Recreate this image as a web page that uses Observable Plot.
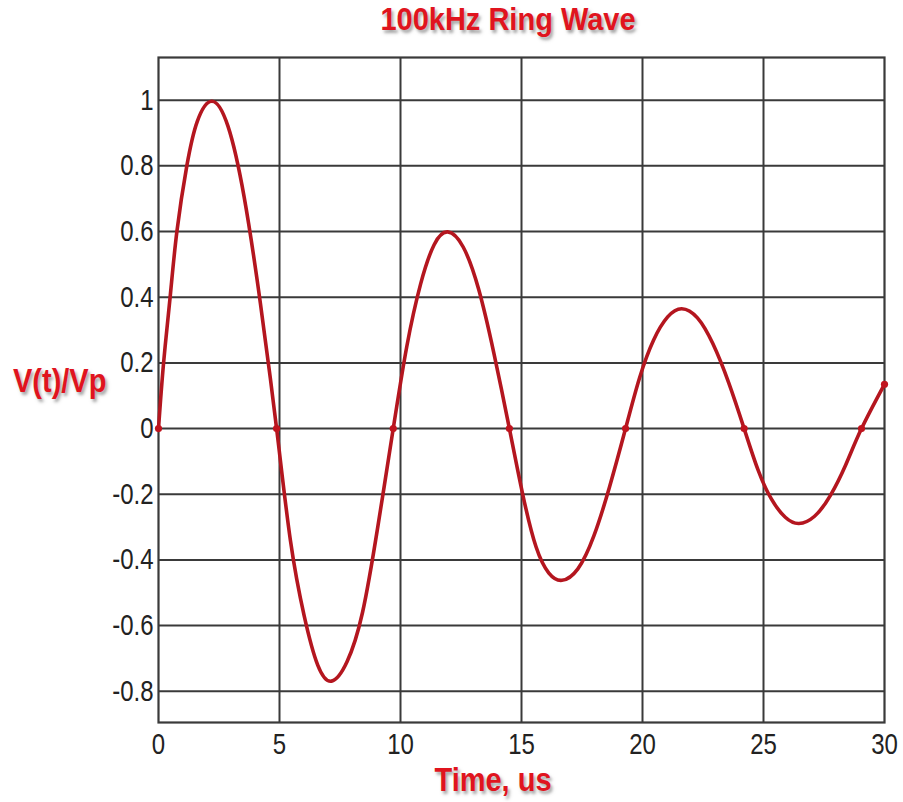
<!DOCTYPE html>
<html>
<head>
<meta charset="utf-8">
<script src="https://cdn.jsdelivr.net/npm/d3@7"></script>
<script src="https://cdn.jsdelivr.net/npm/@observablehq/plot@0.6"></script>
<style>
  body { margin: 0; background: #fff; }
  #wrap { position: relative; width: 903px; height: 802px; font-family: "Liberation Sans", Arial, sans-serif; overflow: hidden; }
  .lbl { position: absolute; color: #e0141e; font-weight: bold; font-size: 29px; line-height: 29px;
         text-shadow: 2px 3px 3px rgba(90,90,90,0.55); white-space: nowrap; transform-origin: 50% 85%; }
</style>
</head>
<body>
<div id="wrap">
  <div class="lbl" id="title" style="left:0;width:1016px;text-align:center;top:6px;transform:scaleY(1.1);">100kHz Ring Wave</div>
  <div class="lbl" id="ylab" style="left:13px;top:368px;transform:scaleY(1.12);">V(t)/Vp</div>
  <div class="lbl" id="xlab" style="left:0;width:986px;text-align:center;top:767px;transform:scaleY(1.12);">Time, us</div>
</div>
<script>
// Curve (time in µs, normalized voltage V(t)/Vp)
const time  = [0, 0.21, 0.48, 0.76, 1.17, 1.6, 2.2, 2.87, 3.54, 4.21, 4.88, 5.45, 6.02, 6.58, 7.15, 7.79, 8.43, 9.06, 9.7, 10.26, 10.83, 11.39, 11.95, 12.59, 13.23, 13.86, 14.5, 15.05, 15.6, 16.13, 16.67, 17.33, 17.99, 18.64, 19.3, 19.88, 20.46, 21.04, 21.62, 22.27, 22.91, 23.56, 24.2, 24.77, 25.33, 25.9, 26.46, 27.11, 27.76, 28.4, 29.05, 30];
const volts = [0, 0.2, 0.4, 0.6, 0.8, 0.935, 0.997, 0.921, 0.705, 0.382, 0, -0.34, -0.57, -0.72, -0.769, -0.71, -0.56, -0.3, 0, 0.25, 0.44, 0.56, 0.599, 0.553, 0.424, 0.229, 0, -0.2, -0.36, -0.44, -0.462, -0.427, -0.327, -0.177, 0, 0.155, 0.27, 0.34, 0.365, 0.337, 0.258, 0.14, 0, -0.125, -0.215, -0.27, -0.289, -0.267, -0.204, -0.11, 0, 0.135];
// Marked points (zero crossings and end point)
const markT = [0, 4.88, 9.7, 14.5, 19.3, 24.2, 29.05, 30];
const markV = [0, 0, 0, 0, 0, 0, 0, 0.135];
const yTicks = [-0.8, -0.6, -0.4, -0.2, 0, 0.2, 0.4, 0.6, 0.8, 1];
const xTicks = [0, 5, 10, 15, 20, 25, 30];

const curve = time.map((t, i) => ({t, v: volts[i]}));
const marks = markT.map((t, i) => ({t, v: markV[i]}));
const fmt = d => (Math.round(d * 10) / 10).toString();

const chart = Plot.plot({
  width: 903,
  height: 802,
  marginLeft: 158,
  marginRight: 19,
  marginTop: 57,
  marginBottom: 80,
  style: {fontFamily: "'Liberation Sans', Arial, sans-serif", fontSize: "24px", color: "#222", background: "transparent", overflow: "visible"},
  x: {domain: [0, 30], ticks: xTicks, tickFormat: fmt, tickSize: 0, tickPadding: 11, label: null},
  y: {domain: [-0.895, 1.13], ticks: yTicks, tickFormat: fmt, tickSize: 0, tickPadding: 5, label: null},
  marks: [
    Plot.gridY(yTicks, {stroke: "#3a3a3a", strokeOpacity: 1, strokeWidth: 2}),
    Plot.gridX(xTicks.slice(1, -1), {stroke: "#3a3a3a", strokeOpacity: 1, strokeWidth: 2}),
    Plot.frame({stroke: "#3a3a3a", strokeWidth: 2.2}),
    Plot.line(curve, {x: "t", y: "v", curve: "natural", stroke: "#b4161f", strokeWidth: 3.6}),
    Plot.dot(marks, {x: "t", y: "v", r: 3.6, fill: "#c0141e"})
  ]
});
// stretch tick labels vertically like the reference lettering
chart.querySelectorAll('g[aria-label$="tick label"] text').forEach(t => {
  const tr = t.getAttribute("transform") || "";
  t.setAttribute("transform", tr + " scale(1,1.22)");
});
document.getElementById("wrap").prepend(chart);
chart.style.position = "absolute";
chart.style.left = "0";
chart.style.top = "0";
</script>
</body>
</html>
